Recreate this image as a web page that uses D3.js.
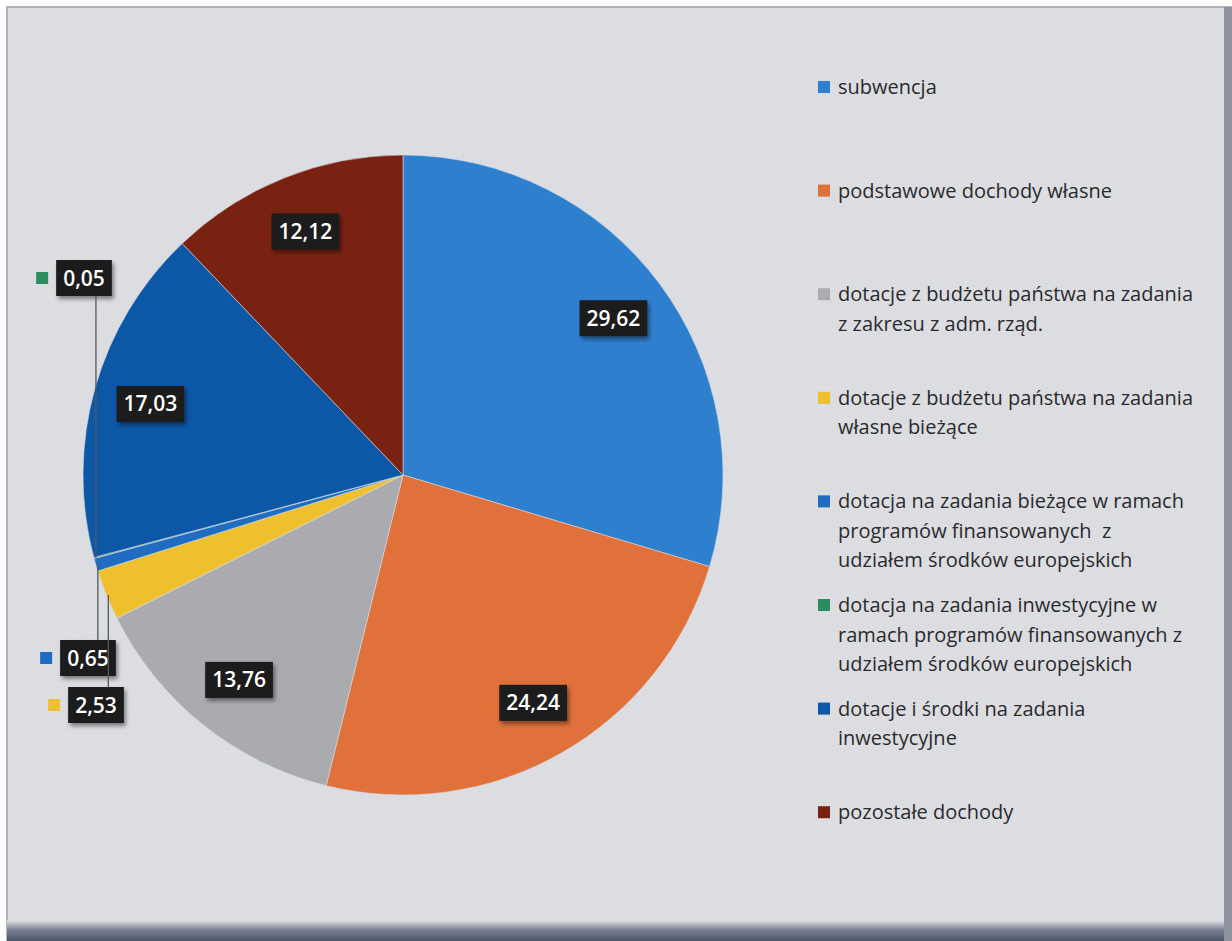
<!DOCTYPE html>
<html>
<head>
<meta charset="utf-8">
<script src="https://cdn.jsdelivr.net/npm/d3@7"></script>
<style>
  html, body { margin: 0; padding: 0; background: #fff; }
  svg { display: block; }
</style>
</head>
<body>
<svg width="1232" height="941"></svg>
<script>
// data (percent of revenue)
var categories = [
	"subwencja",
	"podstawowe dochody własne",
	"dotacje z budżetu państwa na zadania z zakresu z adm. rząd.",
	"dotacje z budżetu państwa na zadania własne bieżące",
	"dotacja na zadania bieżące w ramach programów finansowanych  z udziałem środków europejskich",
	"dotacja na zadania inwestycyjne w ramach programów finansowanych z udziałem środków europejskich",
	"dotacje i środki na zadania inwestycyjne",
	"pozostałe dochody"
];
var values = [29.62, 24.24, 13.76, 2.53, 0.65, 0.05, 17.03, 12.12];
var colors = ["#2f7fcf", "#e1713a", "#a9abaf", "#efc02d", "#1f6cc1", "#2a8c5f", "#0c58a7", "#7a2212"];

// legend text split into lines as in the picture
var legendLines = [
	["subwencja"],
	["podstawowe dochody własne"],
	["dotacje z budżetu państwa na zadania", "z zakresu z adm. rząd."],
	["dotacje z budżetu państwa na zadania", "własne bieżące"],
	["dotacja na zadania bieżące w ramach", "programów finansowanych  z", "udziałem środków europejskich"],
	["dotacja na zadania inwestycyjne w", "ramach programów finansowanych z", "udziałem środków europejskich"],
	["dotacje i środki na zadania", "inwestycyjne"],
	["pozostałe dochody"]
];

var svg = d3.select("svg"),
	width = +svg.attr("width"),
	height = +svg.attr("height"),
	cx = 403,
	cy = 475,
	radius = 320;

// scanned page look
var defs = svg.append("defs");
var noise = defs.append("filter").attr("id", "noise").attr("x", 0).attr("y", 0).attr("width", "100%").attr("height", "100%");
noise.append("feTurbulence").attr("type", "fractalNoise").attr("baseFrequency", 0.9).attr("numOctaves", 2).attr("seed", 3);
noise.append("feColorMatrix").attr("type", "matrix")
	.attr("values", "0 0 0 0 0.45  0 0 0 0 0.47  0 0 0 0 0.5  0 0 0 0.3 0");
var shadow = defs.append("filter").attr("id", "shadow").attr("x", "-20%").attr("y", "-20%").attr("width", "150%").attr("height", "160%");
shadow.append("feDropShadow").attr("dx", 2).attr("dy", 3).attr("stdDeviation", 2).attr("flood-color", "#000").attr("flood-opacity", 0.45);
var bottomGrad = defs.append("linearGradient").attr("id", "bottomGrad").attr("x1", 0).attr("y1", 0).attr("x2", 0).attr("y2", 1);
bottomGrad.append("stop").attr("offset", "0%").attr("stop-color", "#e2e3e7");
bottomGrad.append("stop").attr("offset", "45%").attr("stop-color", "#7d8496");
bottomGrad.append("stop").attr("offset", "100%").attr("stop-color", "#4b5468");

svg.append("rect").attr("width", width).attr("height", height).attr("fill", "#fdfdfd");
svg.append("rect").attr("x", 7).attr("y", 7).attr("width", width - 7).attr("height", height - 7)
	.attr("fill", "#e3e4e8").attr("stroke", "#9a9ca2").attr("stroke-width", 1.5);
svg.append("rect").attr("x", 7).attr("y", 7).attr("width", width - 7).attr("height", height - 7)
	.attr("filter", "url(#noise)");
svg.append("rect").attr("x", 7).attr("y", 920).attr("width", width - 7).attr("height", 21).attr("fill", "url(#bottomGrad)");
svg.append("rect").attr("x", width - 8).attr("y", 7).attr("width", 8).attr("height", height - 7).attr("fill", "#8e939e");

// pie
var pie = d3.pie().sort(null).value(function (d) { return d.value; });
var data = categories.map(function (c, i) { return {name: c, value: values[i], color: colors[i], idx: i}; });
var arcs = pie(data);

var arc = d3.arc().innerRadius(0).outerRadius(radius);
var labelArc = d3.arc().innerRadius(radius * 0.64).outerRadius(radius);
var edgeArc = d3.arc().innerRadius(radius).outerRadius(radius);

var g = svg.append("g").attr("transform", "translate(" + cx + "," + cy + ")");

g.selectAll(".slice")
	.data(arcs)
	.enter()
	.append("path")
	.attr("class", "slice")
	.attr("d", arc)
	.attr("fill", function (d) { return d.data.color; })
	.attr("stroke", "#d9dde6")
	.attr("stroke-width", 0.8)
	.attr("stroke-opacity", 0.7);

// labels - small slices are pulled out to the left
var fmt = function (v) { return d3.format(".2f")(v).replace(".", ","); };
var outside = {3: {x: -307, y: 230}, 4: {x: -315, y: 183}, 5: {x: -319, y: -197}};

var labels = g.selectAll(".lab")
	.data(arcs)
	.enter()
	.append("g")
	.attr("class", "lab")
	.attr("transform", function (d) {
		var p = outside[d.data.idx] ? [outside[d.data.idx].x, outside[d.data.idx].y] : labelArc.centroid(d);
		return "translate(" + p[0] + "," + p[1] + ")";
	});

// leader lines for pulled-out labels
g.selectAll(".leader")
	.data(arcs.filter(function (d) { return outside[d.data.idx]; }))
	.enter()
	.append("line")
	.attr("class", "leader")
	.attr("x1", function (d) { return edgeArc.centroid(d)[0] + 2; })
	.attr("x2", function (d) { return edgeArc.centroid(d)[0] + 2; })
	.attr("y1", function (d) { return edgeArc.centroid(d)[1]; })
	.attr("y2", function (d) {
		var o = outside[d.data.idx];
		return o.y < edgeArc.centroid(d)[1] ? o.y + 18 : o.y - 18;
	})
	.attr("stroke", "#55585e")
	.attr("stroke-width", 1.3);

labels.each(function (d) {
	var el = d3.select(this);
	var box = el.append("rect").attr("fill", "#1b1c1f").attr("filter", "url(#shadow)");
	var t = el.append("text")
		.text(fmt(d.data.value))
		.attr("text-anchor", "middle")
		.attr("dy", "0.36em")
		.attr("fill", "#ffffff")
		.attr("font-family", "'Open Sans', sans-serif")
		.attr("font-weight", 600)
		.attr("font-size", 21);
	var w = t.node().getComputedTextLength() + 14;
	box.attr("x", -w / 2).attr("y", -18).attr("width", w).attr("height", 36);
	el.append("rect")
		.attr("x", -w / 2 - 20).attr("y", -6).attr("width", 12).attr("height", 12)
		.attr("fill", d.data.color);
});

// legend
var legend = svg.append("g").attr("transform", "translate(818,87)");
var item = legend.selectAll(".item")
	.data(data)
	.enter()
	.append("g")
	.attr("class", "item")
	.attr("transform", function (d, i) { return "translate(0," + (i * 103.6) + ")"; });

item.append("rect")
	.attr("x", 0).attr("y", -6).attr("width", 12).attr("height", 12)
	.attr("fill", function (d) { return d.color; });

item.append("text")
	.attr("x", 20)
	.attr("font-family", "'Open Sans', sans-serif")
	.attr("font-size", 20)
	.attr("fill", "#2a2a2c")
	.selectAll("tspan")
	.data(function (d, i) { return legendLines[i]; })
	.enter()
	.append("tspan")
	.attr("x", 20)
	.attr("y", function (d, i) { return i * 29.5; })
	.attr("dy", "0.35em")
	.attr("xml:space", "preserve")
	.text(function (d) { return d; });
</script>
</body>
</html>
